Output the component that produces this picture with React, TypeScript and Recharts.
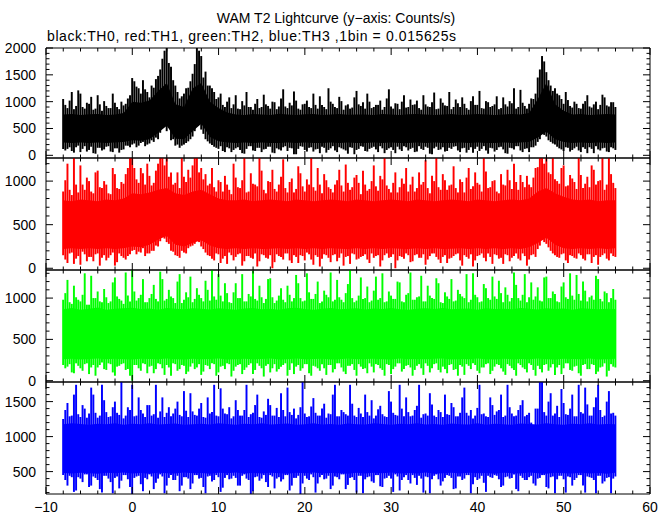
import { ComposedChart, Area, Bar, XAxis, YAxis } from 'recharts';

const W = 672;
const H = 515;
const PLOT_L = 46;
const PLOT_R = 650;
const FONT = '"Liberation Sans", Arial, Helvetica, sans-serif';

// lightcurve: lowest / highest excursion per 0.5 s bin
// (set A at t = -8 + 0.5 i, set B offset by 0.25 s), plus the dense core
// of the band per 1 s.
const T_START = -8;
const BIN = 0.5;
const HALF = 0.25;
const CORE_BIN = 1;

// TH0 (black)
const th0Hi = [
  1050, 880, 1180, 920, 1150, 870, 960, 850, 1120, 830,
  920, 880, 980, 860, 930, 1060, 1440, 1280, 1150, 1230,
  1080, 1260, 1480, 1800, 2000, 1650, 1300, 1060, 1150, 1260,
  1520, 2000, 1850, 1560, 1300, 1180, 1080, 940, 1000, 880,
  1120, 860, 930, 900, 850, 1050, 900, 950, 870, 990,
  910, 1230, 880, 930, 1020, 850, 960, 900, 1150, 870,
  940, 860, 1000, 900, 1090, 850, 950, 890, 1200, 920,
  870, 1000, 900, 940, 850, 1060, 910, 970, 860, 1120,
  900, 940, 1020, 850, 950, 900, 1170, 870, 980, 920,
  860, 1040, 900, 960, 850, 1100, 940, 880, 1010, 900,
  950, 860, 1080, 910, 970, 870, 1220, 920, 960, 1050,
  1450, 1850, 1550, 1300, 1250, 1120, 960, 1030, 890, 960,
  870, 1010, 910, 950, 860, 1130, 930, 990, 900,
];
const th0Lo = [
  120, 120, 80, 150, 60, 170, 100, 40, 140, 90,
  160, 70, 130, 50, 110, 180, 200, 150, 230, 170,
  220, 250, 300, 560, 450, 280, 180, 140, 200, 260,
  350, 640, 480, 300, 220, 160, 120, 80, 150, 60,
  130, 100, 30, 170, 90, 140, 60, 120, 160, 40,
  110, 150, 80, 130, 20, 170, 100, 140, 70, 120,
  160, 50, 130, 90, 150, 110, 30, 140, 100, 170,
  80, 120, 160, 60, 130, 100, 150, 40, 110, 170,
  90, 140, 70, 120, 160, 30, 130, 100, 150, 80,
  120, 170, 60, 140, 100, 50, 160, 120, 90, 140,
  70, 150, 110, 30, 130, 170, 90, 120, 60, 150,
  250, 410, 350, 250, 200, 130, 80, 140, 100, 160,
  60, 120, 150, 40, 110, 130, 70, 150, 100,
];
const th0HiB = [
  940, 1020, 860, 1210, 900, 980, 1090, 870, 950, 1010,
  880, 1150, 900, 1000, 960, 1120, 1380, 1250, 1400, 1180,
  1300, 1420, 1600, 1950, 1720, 1400, 1180, 1100, 1250, 1380,
  1700, 1950, 1450, 1300, 1250, 1050, 1150, 900, 1080, 950,
  870, 1010, 1180, 900, 960, 880, 1130, 920, 1000, 860,
  1060, 910, 980, 1190, 870, 950, 1020, 880, 940, 1100,
  900, 1250, 960, 880, 1010, 930, 870, 1080, 950, 990,
  1150, 880, 940, 1020, 900, 1230, 870, 960, 1000, 890,
  1040, 950, 880, 1120, 910, 990, 860, 1060, 930, 1180,
  900, 970, 1080, 880, 1010, 940, 1200, 870, 990, 920,
  1100, 880, 950, 1010, 1250, 900, 980, 870, 1060, 1150,
  1600, 1750, 1400, 1200, 1150, 1050, 1180, 920, 1000, 880,
  960, 1120, 890, 1000, 940, 1080, 910, 990,
];
const th0LoB = [
  90, 150, 50, 180, 120, 70, 160, 30, 140, 110,
  170, 60, 130, 100, 180, 150, 220, 180, 250, 200,
  280, 330, 420, 600, 520, 300, 200, 180, 230, 300,
  450, 580, 400, 260, 190, 140, 170, 60, 130, 100,
  150, 40, 120, 170, 80, 140, 110, 160, 50, 130,
  90, 170, 140, 20, 120, 160, 70, 150, 110, 40,
  140, 100, 170, 60, 130, 90, 150, 20, 120, 160,
  70, 140, 110, 170, 40, 130, 100, 160, 80, 150,
  120, 60, 170, 100, 140, 20, 160, 110, 70, 140,
  160, 90, 130, 50, 150, 120, 80, 170, 30, 130,
  100, 160, 40, 140, 110, 170, 60, 130, 150, 180,
  300, 380, 280, 220, 160, 110, 150, 70, 130, 90,
  150, 40, 120, 170, 90, 140, 60, 130,
];
const th0CoreHi = [
  760, 770, 750, 765, 770, 750, 760, 790,
  1000, 980, 1020, 1200, 1350, 950, 900, 1250, 1350, 1000, 880, 800,
  760, 750, 770, 760, 750, 775, 760, 750, 765, 770,
  750, 760, 770, 755, 760, 760, 750, 770, 760, 750,
  765, 770, 760, 750, 760, 770, 750, 760, 770, 760,
  750, 760, 770, 760, 790,
  1050, 1350, 950, 830, 760, 770, 750, 760, 770, 760,
];
const th0CoreLo = [
  240, 230, 240, 230, 240, 230, 240, 250,
  280, 270, 300, 420, 550, 310, 300, 450, 590, 340, 260, 240,
  230, 240, 230, 240, 230, 230, 240, 230, 240, 230,
  230, 240, 230, 240, 230, 230, 240, 230, 240, 230,
  230, 240, 230, 240, 230, 230, 240, 230, 240, 230,
  230, 240, 230, 240, 250,
  330, 440, 300, 250, 230, 240, 230, 240, 230, 240,
];

// TH1 (red)
const th1Hi = [
  880, 1200, 840, 960, 1180, 900, 1000, 860, 1120, 920,
  960, 850, 1080, 910, 970, 1150, 1265, 1020, 1150, 960,
  1060, 980, 1200, 1265, 1265, 1100, 980, 920, 1050, 1130,
  1180, 1265, 1150, 1080, 970, 930, 1010, 880, 960, 850,
  1040, 920, 1265, 880, 970, 940, 1120, 860, 990, 910,
  960, 1250, 870, 1030, 910, 1090, 880, 960, 930, 1150,
  860, 1010, 910, 960, 1130, 880, 980, 930, 1070, 850,
  960, 910, 1180, 890, 1020, 950, 870, 1100, 930, 970,
  880, 1050, 920, 960, 1240, 860, 1000, 930, 1080, 900,
  960, 920, 1020, 870, 1150, 940, 980, 880, 1110, 930,
  1010, 860, 960, 1130, 910, 990, 1070, 930, 960, 1040,
  1160, 1265, 1265, 1080, 1020, 970, 1180, 950, 1030, 910,
  1070, 970, 930, 1130, 1000, 1265, 960, 1080, 920,
];
const th1Lo = [
  150, 60, 180, 110, 40, 160, 130, 80, 170, 120,
  90, 150, 30, 170, 120, 140, 200, 160, 180, 140,
  170, 200, 250, 380, 300, 200, 150, 120, 180, 230,
  260, 320, 250, 180, 140, 90, 160, 110, 50, 150,
  130, 170, 80, 140, 110, 20, 160, 120, 150, 70,
  140, 100, 170, 60, 130, 150, 90, 160, 40, 130,
  110, 150, 70, 160, 120, 30, 140, 170, 100, 130,
  160, 60, 120, 150, 90, 170, 130, 0, 140, 110,
  150, 80, 160, 120, 40, 140, 170, 100, 130, 60,
  120, 160, 90, 150, 110, 20, 140, 170, 80, 130,
  160, 110, 50, 150, 120, 170, 90, 140, 100, 160,
  220, 330, 280, 200, 150, 120, 170, 60, 140, 110,
  150, 90, 160, 130, 40, 150, 110, 170, 130,
];
const th1HiB = [
  1010, 900, 1265, 870, 960, 1040, 880, 1100, 930, 1000,
  860, 1150, 920, 990, 1080, 1265, 1150, 980, 1090, 1200,
  950, 1120, 1265, 1180, 1050, 960, 1100, 1265, 990, 1040,
  1265, 1100, 1020, 950, 1150, 880, 990, 1060, 900, 1200,
  930, 1010, 870, 1090, 960, 1265, 900, 1000, 1130, 880,
  1050, 920, 990, 870, 1170, 940, 1020, 1265, 890, 960,
  1080, 930, 870, 1010, 950, 1190, 900, 1040, 980, 1120,
  890, 1000, 940, 1060, 1265, 910, 980, 870, 1030, 1150,
  960, 880, 1100, 990, 920, 1060, 1265, 900, 1010, 950,
  1170, 870, 990, 1040, 910, 1100, 960, 1265, 920, 1000,
  880, 1080, 950, 1010, 1200, 900, 990, 1060, 930, 1150,
  1265, 1200, 1100, 1265, 1000, 1150, 940, 1070, 990, 1265,
  920, 1050, 1180, 960, 1010, 900, 1265, 980,
];
const th1LoB = [
  100, 170, 50, 140, 190, 80, 130, 160, 30, 150,
  120, 180, 70, 140, 100, 160, 210, 190, 230, 170,
  200, 260, 310, 340, 280, 190, 140, 200, 170, 250,
  280, 300, 220, 150, 110, 170, 60, 140, 180, 90,
  160, 30, 140, 120, 170, 80, 150, 110, 0, 160,
  130, 170, 90, 150, 60, 140, 180, 100, 150, 20,
  160, 120, 150, 80, 170, 130, 50, 160, 110, 140,
  100, 170, 140, 20, 150, 120, 160, 90, 130, 170,
  70, 150, 120, 160, 100, 170, 130, 60, 150, 110,
  140, 170, 30, 130, 160, 90, 150, 120, 170, 50,
  150, 120, 160, 80, 140, 110, 170, 30, 150, 130,
  260, 300, 240, 170, 130, 160, 90, 150, 120, 170,
  110, 160, 60, 150, 130, 170, 90, 140,
];
const th1CoreHi = [
  780, 770, 790, 780, 770, 790, 780, 800,
  860, 850, 870, 900, 920, 860, 840, 880, 900, 850, 800, 780,
  780, 790, 770, 780, 790, 780, 770, 790, 780, 770,
  780, 790, 780, 770, 790, 780, 770, 780, 790, 780,
  770, 790, 780, 770, 780, 790, 780, 770, 790, 780,
  770, 780, 790, 780, 800,
  880, 920, 860, 820, 790, 780, 790, 770, 780, 780,
];
const th1CoreLo = [
  220, 230, 220, 230, 220, 230, 220, 230,
  250, 240, 270, 330, 370, 270, 250, 290, 320, 260, 230, 220,
  230, 220, 230, 220, 225, 230, 220, 230, 220, 230,
  220, 230, 225, 220, 230, 220, 230, 220, 230, 225,
  220, 230, 220, 230, 220, 225, 230, 220, 230, 220,
  230, 220, 230, 220, 240,
  290, 350, 270, 230, 220, 230, 220, 230, 220, 230,
];

// TH2 (green)
const th2Hi = [
  980, 1220, 930, 1010, 960, 1300, 920, 1000, 1080, 950,
  1010, 960, 1250, 990, 930, 1030, 1340, 970, 1040, 950,
  1000, 1160, 960, 1230, 990, 1020, 940, 1290, 980, 1010,
  950, 1120, 1000, 1210, 970, 1020, 1290, 960, 1060, 940,
  1180, 1000, 960, 1050, 1330, 970, 1010, 990, 1240, 940,
  1030, 980, 1150, 960, 1280, 1000, 970, 1070, 990, 1200,
  960, 1040, 1310, 980, 1010, 950, 1170, 1000, 970, 1250,
  1000, 950, 1090, 980, 1300, 960, 1030, 990, 1190, 950,
  1060, 980, 1010, 1270, 960, 1030, 990, 1180, 940, 1020,
  1230, 970, 1050, 1000, 950, 1300, 1010, 960, 1120, 980,
  1020, 1210, 950, 1040, 1000, 1160, 970, 1290, 1010, 980,
  1130, 960, 1260, 1000, 1050, 950, 1190, 990, 1030, 1280,
  970, 1090, 1010, 980, 1230, 960, 1060, 1000, 980,
];
const th2Lo = [
  190, 170, 100, 210, 150, 200, 80, 190, 160, 220,
  130, 200, 60, 180, 210, 140, 0, 190, 120, 200,
  170, 90, 210, 150, 190, 60, 200, 140, 180, 110,
  210, 160, 70, 190, 140, 200, 100, 180, 210, 50,
  170, 200, 130, 190, 80, 210, 150, 180, 100, 200,
  140, 190, 60, 210, 170, 120, 200, 90, 180, 150,
  200, 70, 190, 140, 210, 110, 180, 200, 60, 170,
  150, 210, 100, 190, 130, 200, 80, 170, 210, 140,
  190, 60, 180, 150, 210, 100, 200, 130, 170, 90,
  200, 140, 190, 70, 180, 210, 120, 160, 200, 80,
  170, 190, 110, 200, 150, 60, 190, 140, 210, 130,
  180, 100, 200, 160, 70, 190, 150, 210, 120, 180,
  60, 200, 140, 190, 110, 170, 50, 200, 160,
];
const th2HiB = [
  1060, 950, 1150, 980, 1040, 920, 1270, 1000, 960, 1110,
  940, 1190, 1020, 970, 1310, 960, 1080, 1000, 1230, 950,
  1050, 990, 1320, 970, 1100, 1000, 1200, 940, 1070, 1260,
  990, 1040, 960, 1100, 1340, 980, 1030, 1180, 950, 1070,
  1000, 1290, 960, 1020, 990, 1150, 940, 1230, 1010, 970,
  1120, 950, 1040, 1000, 1180, 960, 1300, 990, 1050, 940,
  1090, 1010, 960, 1220, 980, 1060, 1340, 950, 1030, 990,
  1140, 970, 1260, 1000, 950, 1080, 990, 1200, 960, 1040,
  1310, 980, 1020, 960, 1150, 1000, 1240, 950, 1070, 990,
  960, 1100, 1020, 1290, 980, 1040, 950, 1170, 1000, 1260,
  990, 1060, 1130, 960, 1310, 1000, 1040, 950, 1190, 1020,
  970, 1250, 1000, 1080, 960, 1140, 1010, 1300, 980, 1050,
  1200, 960, 1030, 1270, 990, 1080, 950, 1110,
];
const th2LoB = [
  150, 200, 90, 180, 120, 210, 160, 60, 190, 140,
  210, 100, 170, 200, 130, 60, 190, 150, 210, 90,
  180, 140, 200, 70, 160, 210, 120, 190, 80, 170,
  140, 200, 110, 180, 210, 60, 170, 140, 200, 120,
  190, 80, 160, 210, 130, 180, 50, 200, 150, 110,
  170, 210, 130, 80, 190, 150, 200, 60, 170, 120,
  150, 190, 100, 210, 160, 80, 180, 130, 200, 140,
  90, 170, 200, 150, 60, 190, 140, 210, 110, 180,
  160, 130, 200, 70, 180, 150, 210, 100, 140, 190,
  130, 60, 170, 200, 140, 190, 90, 160, 210, 120,
  200, 150, 70, 180, 130, 210, 160, 100, 190, 60,
  140, 190, 120, 200, 160, 80, 210, 130, 170, 90,
  190, 140, 200, 80, 160, 210, 120, 170,
];
const th2CoreHi = [
  865, 880, 858, 872, 885, 860, 870, 878,
  882, 868, 875, 860, 880, 872, 865, 878, 870, 862, 876, 868,
  860, 874, 880, 865, 870, 858, 876, 882, 868, 860,
  872, 880, 865, 870, 878, 862, 874, 868, 880, 865,
  858, 872, 876, 868, 880, 865, 870, 874, 860, 878,
  868, 872, 865, 880, 870,
  862, 876, 868, 874, 860, 878, 870, 865, 872, 868,
];
const th2CoreLo = [
  260, 265, 255, 262, 270, 258, 265, 260,
  255, 265, 262, 258, 270, 260, 255, 265, 258, 262, 268, 255,
  260, 265, 258, 262, 270, 255, 260, 268, 258, 262,
  265, 255, 260, 268, 258, 262, 265, 258, 255, 268,
  260, 262, 258, 265, 270, 255, 262, 260, 268, 258,
  255, 265, 260, 262, 258,
  268, 260, 255, 265, 262, 258, 268, 255, 260, 265,
];

// TH3 (blue)
const th3Hi = [
  1250, 1480, 1300, 1740, 1280, 1400, 1330, 1600, 1270, 1740,
  1350, 1290, 1500, 1310, 1260, 1420, 1740, 1300, 1380, 1280,
  1450, 1320, 1270, 1560, 1340, 1290, 1400, 1310, 1650, 1280,
  1360, 1300, 1480, 1270, 1330, 1740, 1290, 1400, 1320, 1260,
  1520, 1300, 1380, 1280, 1340, 1600, 1270, 1310, 1450, 1300,
  1280, 1380, 1700, 1310, 1260, 1420, 1330, 1290, 1550, 1300,
  1400, 1270, 1320, 1740, 1290, 1350, 1300, 1470, 1280, 1330,
  1600, 1300, 1260, 1390, 1320, 1280, 1500, 1310, 1740, 1290,
  1350, 1300, 1440, 1270, 1330, 1620, 1300, 1380, 1280, 1320,
  1480, 1290, 1340, 1700, 1300, 1260, 1410, 1320, 1290, 1560,
  1310, 1380, 1280, 1740, 1330, 1300, 1450, 1290, 1340, 1150,
  1400, 1780, 1300, 1620, 1330, 1280, 1480, 1310, 1600, 1290,
  1350, 1700, 1300, 1420, 1740, 1280, 1500, 1330, 1300,
];
const th3Lo = [
  450, 300, 420, 230, 400, 460, 280, 430, 380, 200,
  440, 350, 410, 260, 450, 390, 180, 430, 320, 410,
  460, 250, 400, 430, 300, 450, 380, 220, 420, 400,
  330, 450, 410, 190, 440, 380, 420, 270, 450, 400,
  410, 300, 460, 380, 220, 430, 400, 350, 450, 260,
  420, 390, 450, 300, 410, 180, 440, 380, 420, 330,
  450, 400, 250, 430, 390, 460, 310, 420, 200, 440,
  390, 430, 340, 450, 280, 410, 400, 460, 230, 420,
  380, 450, 310, 400, 430, 190, 440, 390, 360, 450,
  410, 260, 430, 400, 450, 320, 380, 440, 210, 420,
  450, 390, 300, 430, 410, 250, 440, 380, 420, 330,
  400, 450, 280, 420, 190, 440, 390, 430, 300, 410,
  450, 200, 420, 380, 440, 330, 410, 190, 430,
];
const th3HiB = [
  1380, 1290, 1600, 1320, 1450, 1270, 1700, 1340, 1300, 1520,
  1280, 1420, 1340, 1780, 1300, 1380, 1290, 1560, 1330, 1450,
  1300, 1740, 1360, 1280, 1420, 1330, 1500, 1290, 1370, 1620,
  1310, 1400, 1280, 1560, 1350, 1300, 1690, 1330, 1420, 1290,
  1380, 1300, 1740, 1320, 1450, 1280, 1360, 1540, 1300, 1410,
  1620, 1290, 1350, 1400, 1310, 1780, 1280, 1430, 1340, 1300,
  1470, 1330, 1600, 1290, 1380, 1320, 1740, 1300, 1410, 1280,
  1350, 1520, 1300, 1440, 1290, 1650, 1340, 1300, 1400, 1560,
  1290, 1380, 1740, 1320, 1300, 1460, 1280, 1350, 1600, 1310,
  1420, 1290, 1560, 1340, 1380, 1300, 1740, 1330, 1280, 1450,
  1360, 1600, 1300, 1420, 1290, 1380, 1520, 1310, 1200, 1400,
  1780, 1350, 1500, 1300, 1440, 1680, 1320, 1400, 1290, 1740,
  1330, 1460, 1300, 1560, 1380, 1300, 1650, 1340,
];
const th3LoB = [
  380, 440, 210, 420, 350, 460, 300, 410, 250, 440,
  400, 190, 430, 370, 450, 280, 410, 440, 220, 390,
  430, 340, 460, 190, 410, 380, 440, 300, 420, 250,
  450, 400, 280, 430, 360, 450, 210, 410, 390, 440,
  300, 440, 400, 180, 420, 370, 450, 280, 430, 400,
  360, 450, 230, 410, 440, 330, 400, 460, 200, 420,
  390, 440, 300, 420, 460, 250, 410, 380, 440, 190,
  420, 360, 450, 290, 400, 440, 210, 430, 380, 450,
  330, 410, 440, 200, 420, 390, 460, 300, 410, 440,
  250, 430, 380, 450, 190, 420, 400, 340, 440, 410,
  440, 280, 420, 400, 460, 220, 410, 380, 440, 300,
  410, 450, 260, 430, 390, 440, 200, 420, 380, 450,
  300, 430, 410, 190, 440, 360, 420, 400,
];
const th3CoreHi = [
  1175, 1190, 1180, 1168, 1185, 1178, 1192, 1170,
  1182, 1175, 1190, 1172, 1180, 1188, 1168, 1178, 1185, 1172, 1190, 1180,
  1168, 1182, 1176, 1190, 1172, 1180, 1186, 1170, 1178, 1192,
  1174, 1180, 1168, 1186, 1178, 1172, 1190, 1180, 1168, 1184,
  1176, 1190, 1172, 1180, 1168, 1186, 1178, 1174, 1190, 1170,
  1182, 1176, 1168, 1188, 1180,
  1172, 1190, 1178, 1168, 1184, 1176, 1190, 1172, 1180, 1176,
];
const th3CoreLo = [
  480, 472, 485, 478, 470, 482, 475, 488,
  474, 480, 470, 484, 478, 472, 486, 476, 480, 470, 482, 475,
  488, 474, 480, 472, 484, 478, 470, 482, 476, 486,
  472, 480, 478, 470, 484, 474, 482, 476, 488, 472,
  480, 474, 486, 470, 478, 482, 472, 484, 476, 480,
  470, 482, 478, 474, 486,
  476, 470, 482, 478, 472, 484, 474, 480, 470, 482,
];

const xTicks = [
  -10, -8, -6, -4, -2, 0, 2, 4, 6, 8, 10, 12, 14, 16, 18, 20, 22, 24, 26, 28,
  30, 32, 34, 36, 38, 40, 42, 44, 46, 48, 50, 52, 54, 56, 58, 60,
];

// interleave set A and set B into one time-ordered list of [lo, hi] spikes
const spikeRows = (lo: number[], hi: number[], loB: number[], hiB: number[]) => {
  const rows: { t: number; range: number[] }[] = [];
  hi.forEach((h, i) => {
    rows.push({ t: T_START + i * BIN, range: [lo[i], h] });
    if (i < hiB.length) rows.push({ t: T_START + HALF + i * BIN, range: [loB[i], hiB[i]] });
  });
  return rows;
};
const coreRows = (lo: number[], hi: number[]) =>
  hi.map((h, i) => ({ t: T_START + i * CORE_BIN, core: [lo[i], h] }));

const yTicksFor = (min: number, max: number) => {
  const out: number[] = [];
  for (let v = Math.ceil(min / 100) * 100; v <= max; v += 100) out.push(v);
  return out;
};

const PANELS = [
  { id: 'th0', color: '#000000', top: 48, bottom: 158, domain: [-50, 2000], spikes: spikeRows(th0Lo, th0Hi, th0LoB, th0HiB), core: coreRows(th0CoreLo, th0CoreHi) },
  { id: 'th1', color: '#ff0000', top: 158, bottom: 270, domain: [-20, 1265], spikes: spikeRows(th1Lo, th1Hi, th1LoB, th1HiB), core: coreRows(th1CoreLo, th1CoreHi) },
  { id: 'th2', color: '#00ff00', top: 270, bottom: 382, domain: [-16, 1340], spikes: spikeRows(th2Lo, th2Hi, th2LoB, th2HiB), core: coreRows(th2CoreLo, th2CoreHi) },
  { id: 'th3', color: '#0000ff', top: 382, bottom: 494, domain: [180, 1780], spikes: spikeRows(th3Lo, th3Hi, th3LoB, th3HiB), core: coreRows(th3CoreLo, th3CoreHi) },
];

const fmt = (v: number) => (v < 0 ? '\u2212' + Math.abs(v) : String(v));

function Panel({ p, last }: { p: (typeof PANELS)[number]; last: boolean }) {
  const yTicks = yTicksFor(p.domain[0], p.domain[1]);

  const xTick = (edge: number, dir: number, labels: boolean) => (props: any) => {
    const { x, payload } = props;
    const major = payload.value % 10 === 0;
    const len = major ? 7 : 3.5;
    return (
      <g>
        <line x1={x} x2={x} y1={edge} y2={edge + dir * len} stroke="#000" />
        {labels && major && (
          <text x={x} y={p.bottom + 13} textAnchor="middle" dominantBaseline="central" fontSize={14} fontFamily={FONT} fill="#000">
            {fmt(payload.value)}
          </text>
        )}
      </g>
    );
  };

  const yTick = (edge: number, dir: number, labels: boolean) => (props: any) => {
    const { y, payload } = props;
    const major = payload.value % 500 === 0;
    const len = major ? 7 : 3.5;
    return (
      <g>
        <line x1={edge} x2={edge + dir * len} y1={y} y2={y} stroke="#000" />
        {labels && major && (
          <text x={PLOT_L - 10} y={y} textAnchor="end" dominantBaseline="central" fontSize={14} fontFamily={FONT} fill="#000">
            {payload.value}
          </text>
        )}
      </g>
    );
  };

  return (
    <div style={{ position: 'absolute', left: 0, top: 0 }}>
      <ComposedChart
        width={W}
        height={H}
        data={p.spikes}
        margin={{ top: p.top - 8, bottom: H - p.bottom - 20, left: PLOT_L - 40, right: W - PLOT_R - 8 }}
      >
        <XAxis
          xAxisId="b"
          dataKey="t"
          type="number"
          domain={[-10, 60]}
          ticks={xTicks}
          interval={0}
          allowDataOverflow
          height={20}
          axisLine={{ stroke: '#000' }}
          tickLine={false}
          tick={xTick(p.bottom, -1, last)}
        />
        <XAxis
          xAxisId="t"
          orientation="top"
          dataKey="t"
          type="number"
          domain={[-10, 60]}
          ticks={xTicks}
          interval={0}
          allowDataOverflow
          height={8}
          axisLine={{ stroke: '#000' }}
          tickLine={false}
          tick={xTick(p.top, 1, false)}
        />
        <YAxis
          yAxisId="l"
          type="number"
          domain={p.domain}
          ticks={yTicks}
          interval={0}
          allowDataOverflow
          width={40}
          axisLine={{ stroke: '#000' }}
          tickLine={false}
          tick={yTick(PLOT_L, 1, true)}
        />
        <YAxis
          yAxisId="r"
          orientation="right"
          type="number"
          domain={p.domain}
          ticks={yTicks}
          interval={0}
          allowDataOverflow
          width={8}
          axisLine={{ stroke: '#000' }}
          tickLine={false}
          tick={yTick(PLOT_R, -1, false)}
        />
        <Area
          xAxisId="b"
          yAxisId="l"
          data={p.core}
          dataKey="core"
          type="linear"
          stroke="none"
          fill={p.color}
          fillOpacity={1}
          dot={false}
          activeDot={false}
          isAnimationActive={false}
        />
        <Bar
          xAxisId="b"
          yAxisId="l"
          dataKey="range"
          barSize={2.4}
          fill={p.color}
          isAnimationActive={false}
        />
      </ComposedChart>
    </div>
  );
}

export default function App() {
  return (
    <div style={{ position: 'absolute', left: 0, top: 0, width: W, height: H, background: '#fff' }}>
      {PANELS.map((p, i) => (
        <Panel key={p.id} p={p} last={i === PANELS.length - 1} />
      ))}
      <svg width={W} height={H} style={{ position: 'absolute', left: 0, top: 0, pointerEvents: 'none' }}>
        <text x={336} y={23} textAnchor="middle" fontSize={14} fontFamily={FONT} fill="#000">
          WAM T2 Lightcurve (y{'\u2212'}axis: Counts/s)
        </text>
        <text x={47} y={41} fontSize={14} fontFamily={FONT} letterSpacing={0.6} fill="#000">
          black:TH0, red:TH1, green:TH2, blue:TH3 ,1bin = 0.015625s
        </text>
      </svg>
    </div>
  );
}
